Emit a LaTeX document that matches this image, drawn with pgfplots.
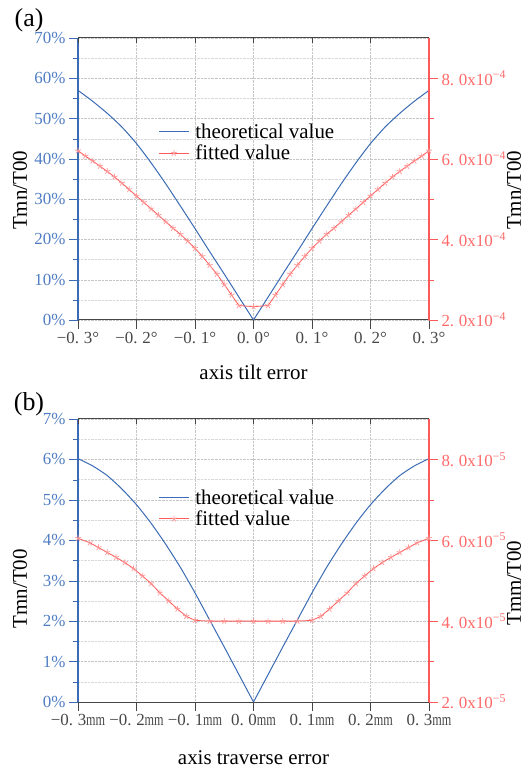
\documentclass[border=0pt]{standalone}
\usepackage{fontspec}
\setmainfont{Liberation Serif}
\usepackage{pgfplots}
\pgfplotsset{compat=1.18}
\definecolor{tblue}{RGB}{58,107,180}
\definecolor{lblue}{RGB}{80,125,195}
\definecolor{tred}{RGB}{255,90,90}
\definecolor{lred}{RGB}{255,105,105}
\definecolor{mred}{RGB}{255,150,150}
\definecolor{axgray}{RGB}{70,70,70}
\newcommand{\tf}{\fontsize{17}{17}\selectfont}
\newcommand{\lf}{\fontsize{21}{21}\selectfont}
\newcommand{\mm}{\scalebox{0.72}[1]{mm}}
\newcommand{\p}{.\hspace{0.28em}}
\pgfplotsset{
  common/.style={scale only axis, width=351bp, xmin=-0.3, xmax=0.3, clip=false,
    tick label style={font=\tf}, label style={font=\lf},
    major tick length=9bp, minor tick length=5bp, tick align=outside},
  leftax/.style={common, axis x line*=bottom, axis y line*=left,
    xtick={-0.3,-0.2,-0.1,0,0.1,0.2,0.3},
    xmajorgrids=true, ymajorgrids=true, yminorgrids=true,
    major grid style={densely dotted, gray!45}, minor grid style={densely dotted, gray!30},
    y axis line style={tblue, line width=1.2bp, -}, ytick style={tblue}, yticklabel style={lblue},
    x axis line style={axgray, line width=1bp, -}, xtick style={axgray, line width=0.8bp},
    xticklabel style={axgray}},
  rightax/.style={common, axis x line=none, axis y line*=right,
    y axis line style={tred, line width=1.2bp, -}, ytick style={tred}, yticklabel style={lred},
    legend style={draw=none, fill=none, font=\lf, anchor=north west, row sep=1bp,
      /tikz/every odd column/.append style={column sep=4bp}},
    legend cell align=left,
    legend image code/.code={\draw[mark repeat=2,mark phase=2,##1] plot coordinates {(0bp,0bp) (15bp,0bp) (30bp,0bp)};}},
  topax/.style={scale only axis, width=351bp, xmin=-0.3, xmax=0.3, ymin=0, ymax=1,
    axis x line*=top, axis y line=none, xtick={-0.3,-0.2,-0.1,0,0.1,0.2,0.3}, xticklabels={},
    tick align=inside, major tick length=5bp,
    x axis line style={axgray, line width=1bp, -}, xtick style={axgray, line width=0.8bp}},
  theo/.style={tblue, line width=1bp, smooth, tension=0.4},
  fit/.style={tred, line width=0.8bp, mark=star, mark size=3.2bp, mark options={mred, line width=0.7bp}}
}
\begin{document}
\begin{tikzpicture}
\useasboundingbox (0,0) rectangle (529bp,770bp);
% ---------------- panel (a) ----------------
\begin{axis}[leftax, at={(78bp,450bp)}, anchor=south west, height=282bp,
  ymin=0, ymax=70, ytick={0,10,20,30,40,50,60,70}, minor ytick={5,15,25,35,45,55,65},
  yticklabels={0\%,10\%,20\%,30\%,40\%,50\%,60\%,70\%},
  xticklabels={−0\p3°,−0\p2°,−0\p1°,0\p0°,0\p1°,0\p2°,0\p3°},
  xlabel={axis tilt error}, xlabel style={at={(rel axis cs:0.5,0)}, anchor=center, yshift=-52bp},
  ylabel={Tmn/T00}, ylabel style={at={(rel axis cs:-0.165,0.46)}, anchor=center}]
\addplot[theo] coordinates {(-0.3,57.0) (-0.275,54.3) (-0.25,51.3) (-0.225,47.9) (-0.2,43.8) (-0.175,39.0) (-0.15,33.8) (-0.125,28.3) (-0.1,22.7) (-0.075,17.0) (-0.05,11.4) (-0.025,5.7) (0,0)};
\addplot[theo] coordinates {(0,0) (0.025,5.7) (0.05,11.4) (0.075,17.0) (0.1,22.7) (0.125,28.3) (0.15,33.8) (0.175,39.0) (0.2,43.8) (0.225,47.9) (0.25,51.3) (0.275,54.3) (0.3,57.0)};
\end{axis}
\begin{axis}[topax, at={(78bp,450bp)}, anchor=south west, height=282bp]
\end{axis}
\begin{axis}[rightax, at={(78bp,450bp)}, anchor=south west, height=282bp,
  ymin=2, ymax=9, ytick={2,4,6,8}, minor ytick={3,5,7},
  yticklabels={2\p0x10\textsuperscript{−4},4\p0x10\textsuperscript{−4},6\p0x10\textsuperscript{−4},8\p0x10\textsuperscript{−4}},
  ylabel={Tmn/T00}, ylabel style={at={(rel axis cs:1.242,0.46)}, anchor=center},
  legend style={at={(rel axis cs:0.22,0.71)}}]
\addlegendimage{tblue, line width=1bp}
\addlegendentry{theoretical value}
\addplot[fit] table {
x y
-0.3 6.20
-0.2875 6.07
-0.275 5.95
-0.2625 5.82
-0.25 5.69
-0.2375 5.55
-0.225 5.40
-0.2125 5.24
-0.2 5.08
-0.1875 4.92
-0.175 4.76
-0.1625 4.60
-0.15 4.44
-0.1375 4.28
-0.125 4.13
-0.1125 3.96
-0.1 3.78
-0.0875 3.58
-0.075 3.36
-0.0625 3.14
-0.05 2.88
-0.0375 2.62
-0.025 2.36
0 2.33
0.025 2.36
0.0375 2.62
0.05 2.88
0.0625 3.14
0.075 3.36
0.0875 3.58
0.1 3.78
0.1125 3.96
0.125 4.13
0.1375 4.28
0.15 4.44
0.1625 4.60
0.175 4.76
0.1875 4.92
0.2 5.08
0.2125 5.24
0.225 5.40
0.2375 5.55
0.25 5.69
0.2625 5.82
0.275 5.95
0.2875 6.07
0.3 6.20
};
\addlegendentry{fitted value}
\end{axis}
\node[font=\fontsize{26}{26}\selectfont] at (29bp,750bp) {(a)};
% ---------------- panel (b) ----------------
\begin{axis}[leftax, at={(78bp,68bp)}, anchor=south west, height=283bp,
  ymin=0, ymax=7, ytick={0,1,2,3,4,5,6,7}, minor ytick={0.5,1.5,2.5,3.5,4.5,5.5,6.5},
  yticklabels={0\%,1\%,2\%,3\%,4\%,5\%,6\%,7\%},
  xticklabels={−0\p3\mm,−0\p2\mm,−0\p1\mm,0\p0\mm,0\p1\mm,0\p2\mm,0\p3\mm},
  xlabel={axis traverse error}, xlabel style={at={(rel axis cs:0.5,0)}, anchor=center, yshift=-56bp},
  ylabel={Tmn/T00}, ylabel style={at={(rel axis cs:-0.165,0.40)}, anchor=center}]
\addplot[theo] coordinates {(-0.3,6.02) (-0.275,5.84) (-0.25,5.6) (-0.225,5.27) (-0.2,4.88) (-0.175,4.42) (-0.15,3.9) (-0.125,3.33) (-0.1,2.7) (-0.075,2.03) (-0.05,1.36) (-0.025,0.68) (0,0)};
\addplot[theo] coordinates {(0,0) (0.025,0.68) (0.05,1.36) (0.075,2.03) (0.1,2.7) (0.125,3.33) (0.15,3.9) (0.175,4.42) (0.2,4.88) (0.225,5.27) (0.25,5.6) (0.275,5.84) (0.3,6.02)};
\end{axis}
\begin{axis}[topax, at={(78bp,68bp)}, anchor=south west, height=283bp]
\end{axis}
\begin{axis}[rightax, at={(78bp,68bp)}, anchor=south west, height=283bp,
  ymin=2, ymax=9, ytick={2,4,6,8}, minor ytick={3,5,7},
  yticklabels={2\p0x10\textsuperscript{−5},4\p0x10\textsuperscript{−5},6\p0x10\textsuperscript{−5},8\p0x10\textsuperscript{−5}},
  ylabel={Tmm/T00}, ylabel style={at={(rel axis cs:1.242,0.42)}, anchor=center},
  legend style={at={(rel axis cs:0.22,0.765)}}]
\addlegendimage{tblue, line width=1bp}
\addlegendentry{theoretical value}
\addplot[fit] table {
x y
-0.3 6.05
-0.28 5.94
-0.265 5.82
-0.25 5.70
-0.235 5.58
-0.22 5.45
-0.205 5.30
-0.19 5.12
-0.175 4.93
-0.16 4.70
-0.145 4.50
-0.13 4.30
-0.115 4.12
-0.1 4.02
-0.075 4.00
-0.05 4.00
-0.025 4.00
0 4.00
0.025 4.00
0.05 4.00
0.075 4.00
0.1 4.02
0.115 4.12
0.13 4.30
0.145 4.50
0.16 4.70
0.175 4.93
0.19 5.12
0.205 5.30
0.22 5.45
0.235 5.58
0.25 5.70
0.265 5.82
0.28 5.94
0.3 6.05
};
\addlegendentry{fitted value}
\end{axis}
\node[font=\fontsize{26}{26}\selectfont] at (29bp,366bp) {(b)};
\end{tikzpicture}
\end{document}
